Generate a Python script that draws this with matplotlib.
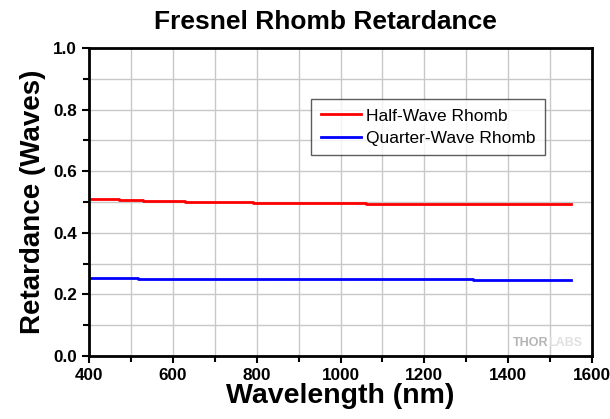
import matplotlib
matplotlib.use("Agg")
import matplotlib.pyplot as plt
from matplotlib.ticker import MultipleLocator

plt.rcParams['font.family'] = ['Liberation Sans', 'DejaVu Sans']

# step data (wavelength where each level starts, value)
half_wl = [400, 472, 529, 629, 791, 1061, 1412, 1550]
half_ret = [0.509, 0.506, 0.503, 0.500, 0.497, 0.495, 0.492, 0.492]
quarter_wl = [400, 517, 791, 1317, 1550]
quarter_ret = [0.253, 0.251, 0.249, 0.246, 0.246]

x_ticks = [400, 600, 800, 1000, 1200, 1400, 1600]
y_ticks = [0.0, 0.2, 0.4, 0.6, 0.8, 1.0]

fig = plt.figure(figsize=(6.1, 4.19), dpi=100)
ax = fig.add_axes([0.1459, 0.1504, 0.8246, 0.735])

ax.plot(half_wl, half_ret, color='#ff0000', lw=2, drawstyle='steps-post', label='Half-Wave Rhomb')
ax.plot(quarter_wl, quarter_ret, color='#0000ff', lw=2, drawstyle='steps-post', label='Quarter-Wave Rhomb')

ax.set_xlim(400, 1600)
ax.set_ylim(0, 1.0)
ax.set_xticks(x_ticks)
ax.set_yticks(y_ticks)
ax.set_yticklabels([f"{v:.1f}" for v in y_ticks])
ax.xaxis.set_minor_locator(MultipleLocator(100))
ax.yaxis.set_minor_locator(MultipleLocator(0.1))
ax.grid(True, which='both', color='#c8c8c8', lw=1)
ax.set_axisbelow(True)

for s in ax.spines.values():
    s.set_linewidth(2)
ax.tick_params(which='major', direction='out', length=5, width=1.5, labelsize=12.3)
ax.tick_params(which='minor', direction='out', length=4, width=1.5)
for lbl in ax.get_xticklabels() + ax.get_yticklabels():
    lbl.set_fontweight('bold')

ax.set_xlabel('Wavelength (nm)', fontsize=20.5, fontweight='bold', labelpad=0)
ax.set_ylabel('Retardance (Waves)', fontsize=20, fontweight='bold', labelpad=5)
ax.set_title('Fresnel Rhomb Retardance', fontsize=19, fontweight='bold', pad=14, x=0.47)

leg = ax.legend(loc='upper left', bbox_to_anchor=(0.442, 0.835), fontsize=12.5,
                frameon=True, fancybox=False, edgecolor='#333333', handlelength=2.3,
                handletextpad=0.3, borderpad=0.55, labelspacing=0.4, borderaxespad=0)
leg.get_frame().set_linewidth(1)

ax.text(0.913, 0.022, 'THOR', transform=ax.transAxes, ha='right', va='bottom',
        fontsize=9, fontweight='bold', color='#b4b4b4')
ax.text(0.913, 0.022, 'LABS', transform=ax.transAxes, ha='left', va='bottom',
        fontsize=9, fontweight='bold', color='#e0e0e0')

fig.savefig('out.png', dpi=100)
